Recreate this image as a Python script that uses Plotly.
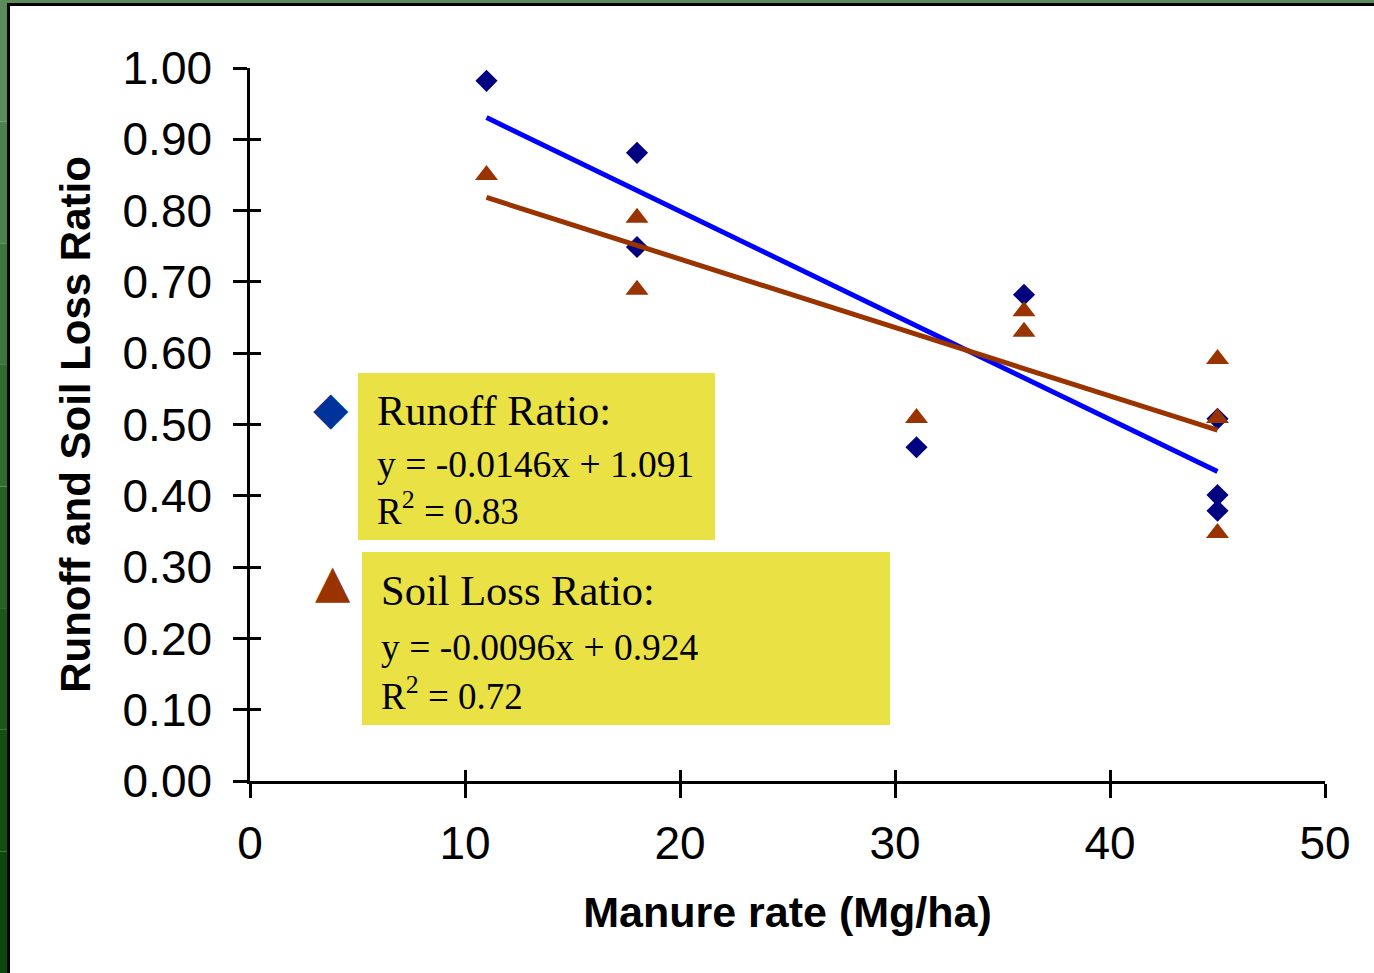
import plotly.graph_objects as go

# ---- data ----
runoff_x = [11, 18, 18, 31, 36, 45, 45, 45]
runoff_y = [0.982, 0.881, 0.749, 0.468, 0.682, 0.508, 0.401, 0.379]
soil_x = [11, 18, 18, 31, 36, 36, 45, 45, 45]
soil_y = [0.850, 0.790, 0.689, 0.509, 0.659, 0.630, 0.592, 0.509, 0.348]
trend_names = ["Runoff Ratio:", "Soil Loss Ratio:"]
trend_slope = [-0.0146, -0.0096]
trend_intercept = [1.091, 0.924]
trend_r2 = ["0.83", "0.72"]
trend_range = [11, 45]
x_ticks = [0, 10, 20, 30, 40, 50]
y_ticks = [0.0, 0.1, 0.2, 0.3, 0.4, 0.5, 0.6, 0.7, 0.8, 0.9, 1.0]

W, H = 1374, 973
L, R, T, B = 250, 1325, 68, 781


def px(xp):
    return (xp - L) / (R - L)


def py(yp):
    return (B - yp) / (B - T)


fig = go.Figure()
fig.add_trace(go.Scatter(x=runoff_x, y=runoff_y, mode="markers",
                         marker=dict(symbol="diamond", size=17, color="#000080"),
                         name="Runoff Ratio", cliponaxis=False))
fig.add_trace(go.Scatter(x=soil_x, y=soil_y, mode="markers",
                         marker=dict(symbol="triangle-up", size=20, color="#993300"),
                         name="Soil Loss Ratio", cliponaxis=False))
line_colors = ["#0000FF", "#993300"]
for i in range(2):
    xs = trend_range
    ys = [trend_slope[i] * x + trend_intercept[i] for x in xs]
    fig.add_trace(go.Scatter(x=xs, y=ys, mode="lines",
                             line=dict(color=line_colors[i], width=5),
                             showlegend=False))

# dummy trace for overlay axes (crossing ticks)
fig.add_trace(go.Scatter(x=[None], y=[None], xaxis="x2", yaxis="y2", showlegend=False))

tickfont = dict(family="Liberation Sans, Arial", size=46, color="black")
fig.update_layout(
    width=W, height=H,
    margin=dict(l=L, r=W - R, t=T, b=H - B),
    paper_bgcolor="white", plot_bgcolor="white",
    showlegend=False,
    xaxis=dict(range=[0, 50], tickvals=x_ticks, ticktext=[str(v) for v in x_ticks],
               showgrid=False, zeroline=False, showline=True, linecolor="black", linewidth=2.5,
               ticks="outside", ticklen=14, tickwidth=2.5, tickcolor="black",
               tickfont=tickfont, ticklabelstandoff=6,
               title=dict(text="<b>Manure rate (Mg/ha)</b>", standoff=29,
                          font=dict(family="Liberation Sans, Arial", size=43, color="black"))),
    yaxis=dict(range=[0, 1], tickvals=y_ticks, ticktext=["%.2f" % v for v in y_ticks],
               showgrid=False, zeroline=False, showline=True, linecolor="black", linewidth=2.5,
               ticks="outside", ticklen=14, tickwidth=2.5, tickcolor="black",
               tickfont=tickfont, ticklabelstandoff=12,
               title=dict(text="<b>Runoff and Soil Loss Ratio</b>", standoff=19,
                          font=dict(family="Liberation Sans, Arial", size=42, color="black"))),
    xaxis2=dict(range=[0, 50], tickvals=x_ticks, overlaying="x", anchor="y2", side="bottom",
                showgrid=False, zeroline=False, showline=False, showticklabels=False,
                ticks="inside", ticklen=11, tickwidth=2.5, tickcolor="black"),
    yaxis2=dict(range=[0, 1], tickvals=y_ticks, overlaying="y", anchor="x2", side="left",
                showgrid=False, zeroline=False, showline=False, showticklabels=False,
                ticks="inside", ticklen=11, tickwidth=2.5, tickcolor="black"),
)

# ---- frame (green border + black edge) ----
shapes = []
greens = ["#5b8a5b", "#4c804c", "#3d763d", "#2f6c2f", "#236223", "#195819", "#115011", "#0c4a0c"]
n = len(greens)
for k, c in enumerate(greens):
    shapes.append(dict(type="rect", xref="paper", yref="paper", layer="below",
                       x0=px(0), x1=px(7), y0=py(k * H / n), y1=py((k + 1) * H / n),
                       fillcolor=c, line=dict(width=0)))
shapes.append(dict(type="rect", xref="paper", yref="paper", layer="below",
                   x0=px(0), x1=px(W), y0=py(0), y1=py(3), fillcolor="#5b8a5b", line=dict(width=0)))
shapes.append(dict(type="rect", xref="paper", yref="paper", layer="below",
                   x0=px(7), x1=px(10), y0=py(3), y1=py(H), fillcolor="black", line=dict(width=0)))
shapes.append(dict(type="rect", xref="paper", yref="paper", layer="below",
                   x0=px(7), x1=px(W), y0=py(3), y1=py(6), fillcolor="black", line=dict(width=0)))

# yellow equation boxes
boxes = [(358, 715, 373, 540), (362, 890, 552, 725)]
for (x0, x1, y0, y1) in boxes:
    shapes.append(dict(type="rect", xref="paper", yref="paper", layer="above",
                       x0=px(x0), x1=px(x1), y0=py(y0), y1=py(y1),
                       fillcolor="#EAE244", line=dict(width=0)))
fig.update_layout(shapes=shapes)

serif = "Liberation Serif, Times New Roman"
text_left = [375, 379]
line_y = [(410, 464, 508), (590, 647, 693)]
sym = ["◆", "▲"]
sym_col = ["#003399", "#993300"]
sym_pos = [(331, 408), (333, 581)]
for i in range(2):
    ys = line_y[i]
    sign = "-" if trend_slope[i] < 0 else "+"
    eq = "y = %s%.4fx + %.3f" % (sign, abs(trend_slope[i]), trend_intercept[i])
    texts = [(trend_names[i], 42.5), (eq, 37.5), ("R<sup>2</sup> = " + trend_r2[i], 37)]
    for (t, sz), yy in zip(texts, ys):
        fig.add_annotation(xref="paper", yref="paper", x=px(text_left[i]), y=py(yy),
                           xanchor="left", yanchor="middle", showarrow=False, text=t,
                           font=dict(family=serif, size=sz, color="black"))
    fig.add_annotation(xref="paper", yref="paper", x=px(sym_pos[i][0]), y=py(sym_pos[i][1]),
                       xanchor="center", yanchor="middle", showarrow=False, text=sym[i],
                       font=dict(family="DejaVu Sans", size=46, color=sym_col[i]))

fig.write_html("out.html", config={"displayModeBar": False},
               post_script="document.body.style.margin='0';document.body.style.overflow='hidden';")
